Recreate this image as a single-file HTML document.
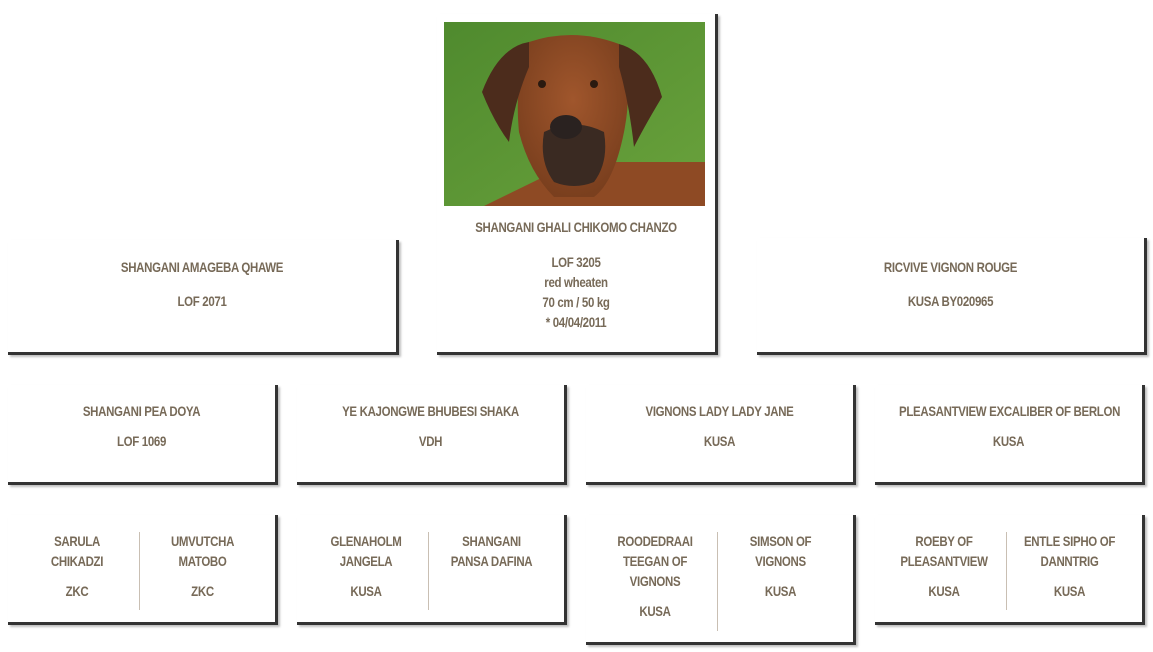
<!DOCTYPE html>
<html><head><meta charset="utf-8"><style>
*{margin:0;padding:0;box-sizing:border-box}
body{width:1153px;height:652px;background:#fff;position:relative;overflow:hidden;font-family:"Liberation Sans Narrow","Liberation Sans",sans-serif;color:#776a58}
.b{position:absolute;border-right:3px solid #333;border-bottom:3px solid #333;box-shadow:2px 2px 2px rgba(0,0,0,.25)}
.t{position:absolute;text-align:center;font-size:14px;line-height:20px;font-weight:bold;letter-spacing:-0.4px;transform:scaleX(.82);white-space:nowrap}
.d{position:absolute;width:1px;background:#c9bfb3}
</style></head><body>

<div class="b" style="left:8px;top:240px;width:391px;height:115px"></div>
<div class="t" style="left:8px;width:388px;top:257px">SHANGANI AMAGEBA QHAWE</div>
<div class="t" style="left:8px;width:388px;top:291px">LOF 2071</div>

<div class="b" style="left:437px;top:14px;width:281px;height:341px"></div>
<svg style="position:absolute;left:444px;top:22px" width="261" height="184" viewBox="0 0 261 184">
<defs><linearGradient id="g" x1="0" y1="0" x2="1" y2="1"><stop offset="0" stop-color="#4f8a2e"/><stop offset="1" stop-color="#6aa23c"/></linearGradient>
<radialGradient id="f" cx=".5" cy=".4" r=".6"><stop offset="0" stop-color="#a0562c"/><stop offset="1" stop-color="#7a3f1e"/></radialGradient></defs>
<rect width="261" height="184" fill="url(#g)"/>
<path d="M130 140 L261 140 L261 184 L40 184 Z" fill="#8e4a24"/>
<path d="M85 20 Q130 5 175 22 Q190 60 180 110 Q170 160 150 175 L110 175 Q85 150 75 110 Q70 60 85 20Z" fill="url(#f)"/>
<path d="M85 20 Q55 25 38 70 Q50 100 65 120 Q70 80 85 45Z" fill="#4c2c1c"/>
<path d="M175 22 Q205 30 218 75 Q200 105 190 125 Q185 80 175 45Z" fill="#4c2c1c"/>
<path d="M100 110 Q130 95 160 110 Q165 140 150 160 Q130 168 110 160 Q95 140 100 110Z" fill="#3a2a22"/>
<ellipse cx="122" cy="105" rx="16" ry="12" fill="#2a2220"/>
<circle cx="98" cy="62" r="4" fill="#2a1a10"/><circle cx="150" cy="62" r="4" fill="#2a1a10"/>
</svg>
<div class="t" style="left:437px;width:278px;top:217px">SHANGANI GHALI CHIKOMO CHANZO</div>
<div class="t" style="left:437px;width:278px;top:252px">LOF 3205<br>red wheaten<br>70 cm / 50 kg<br>* 04/04/2011</div>

<div class="b" style="left:757px;top:238px;width:390px;height:117px"></div>
<div class="t" style="left:757px;width:387px;top:257px">RICVIVE VIGNON ROUGE</div>
<div class="t" style="left:757px;width:387px;top:291px">KUSA BY020965</div>

<div class="b" style="left:8px;top:385px;width:270px;height:100px"></div>
<div class="t" style="left:8px;width:267px;top:401px">SHANGANI PEA DOYA</div>
<div class="t" style="left:8px;width:267px;top:431px">LOF 1069</div>
<div class="b" style="left:297px;top:385px;width:270px;height:100px"></div>
<div class="t" style="left:297px;width:267px;top:401px">YE KAJONGWE BHUBESI SHAKA</div>
<div class="t" style="left:297px;width:267px;top:431px">VDH</div>
<div class="b" style="left:586px;top:385px;width:270px;height:100px"></div>
<div class="t" style="left:586px;width:267px;top:401px">VIGNONS LADY LADY JANE</div>
<div class="t" style="left:586px;width:267px;top:431px">KUSA</div>
<div class="b" style="left:875px;top:385px;width:270px;height:100px"></div>
<div class="t" style="left:875px;width:267px;top:401px">PLEASANTVIEW EXCALIBER OF BERLON</div>
<div class="t" style="left:875px;width:267px;top:431px">KUSA</div>

<div class="b" style="left:8px;top:515px;width:270px;height:110px"></div>
<div class="d" style="left:139px;top:532px;height:78px"></div>
<div class="t" style="left:8px;width:138px;top:531px">SARULA<br>CHIKADZI</div>
<div class="t" style="left:8px;width:138px;top:581px">ZKC</div>
<div class="t" style="left:135px;width:135px;top:531px">UMVUTCHA<br>MATOBO</div>
<div class="t" style="left:135px;width:135px;top:581px">ZKC</div>

<div class="b" style="left:297px;top:515px;width:270px;height:110px"></div>
<div class="d" style="left:428px;top:532px;height:78px"></div>
<div class="t" style="left:297px;width:138px;top:531px">GLENAHOLM<br>JANGELA</div>
<div class="t" style="left:297px;width:138px;top:581px">KUSA</div>
<div class="t" style="left:424px;width:135px;top:531px">SHANGANI<br>PANSA DAFINA</div>

<div class="b" style="left:586px;top:515px;width:270px;height:130px"></div>
<div class="d" style="left:717px;top:532px;height:99px"></div>
<div class="t" style="left:586px;width:138px;top:531px">ROODEDRAAI<br>TEEGAN OF<br>VIGNONS</div>
<div class="t" style="left:586px;width:138px;top:601px">KUSA</div>
<div class="t" style="left:713px;width:135px;top:531px">SIMSON OF<br>VIGNONS</div>
<div class="t" style="left:713px;width:135px;top:581px">KUSA</div>

<div class="b" style="left:875px;top:515px;width:270px;height:110px"></div>
<div class="d" style="left:1006px;top:532px;height:78px"></div>
<div class="t" style="left:875px;width:138px;top:531px">ROEBY OF<br>PLEASANTVIEW</div>
<div class="t" style="left:875px;width:138px;top:581px">KUSA</div>
<div class="t" style="left:1002px;width:135px;top:531px">ENTLE SIPHO OF<br>DANNTRIG</div>
<div class="t" style="left:1002px;width:135px;top:581px">KUSA</div>
</body></html>
